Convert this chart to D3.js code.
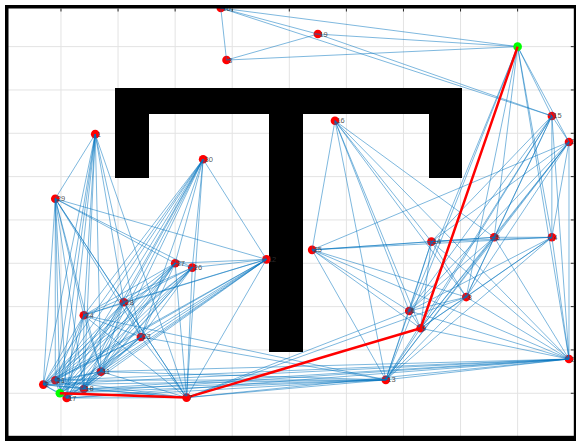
<!DOCTYPE html>
<meta charset="utf-8">
<script src="https://d3js.org/d3.v7.min.js"></script>
<style>
  body { margin: 0; background: #fff; }
  svg { display: block; }
</style>
<div id="chart"></div>
<script>
// Roadmap nodes in map units (0..10 on both axes)
const nodeX = [3.80, 3.90, 5.50, 9.00, 9.60, 9.90, 5.80, 1.60, 3.49, 0.90, 3.00, 3.30, 4.60, 5.40, 7.49, 8.59,
               9.60, 8.10, 7.10, 7.30, 9.90, 6.69, 3.20, 0.69, 0.90, 0.98, 1.10, 1.40, 1.70, 1.40, 2.10, 2.40];
const nodeY = [9.89, 8.69, 9.29, 9.00, 7.40, 6.80, 7.29, 6.98, 6.40, 5.49, 4.00, 3.90, 4.09, 4.31, 4.50, 4.60,
               4.60, 3.22, 2.90, 2.50, 1.79, 1.31, 0.90, 1.20, 1.30, 1.00, 0.89, 1.10, 1.50, 2.80, 3.10, 2.30];
const nodeLabel = ["10", "3", "19", "", "15", "20", "16", "1", "30", "29", "27", "26", "12", "25", "14", "5",
                   "4", "8", "6", "9", "22", "13", "7", "2", "21", "", "17", "18", "11", "24", "28", "23"];
const startNode = 25, goalNode = 3;

// roadmap edges (node index pairs)
const edges = [
  [0,1],[0,2],[0,3],[0,4],[1,2],[1,3],[2,3],[2,4],
  [3,4],[3,5],[3,15],[3,16],[3,17],[3,18],[3,19],[3,20],[3,21],
  [4,5],[4,14],[4,15],[4,16],[4,17],[4,18],[4,19],[4,20],[4,21],
  [5,13],[5,14],[5,15],[5,16],[5,17],[5,18],[5,19],[5,20],[5,21],
  [6,13],[6,14],[6,15],[6,17],[6,18],[6,19],[6,20],[6,21],
  [7,9],[7,22],[7,23],[7,24],[7,25],[7,26],[7,27],[7,28],[7,29],[7,30],[7,31],
  [8,10],[8,11],[8,12],[8,22],[8,23],[8,24],[8,25],[8,26],[8,27],[8,28],[8,29],[8,30],[8,31],
  [9,10],[9,11],[9,12],[9,22],[9,23],[9,24],[9,25],[9,26],[9,27],[9,28],[9,29],[9,30],[9,31],
  [10,11],[10,12],[10,22],[10,23],[10,24],[10,25],[10,26],[10,27],[10,28],[10,29],[10,30],[10,31],
  [11,12],[11,22],[11,23],[11,24],[11,25],[11,26],[11,27],[11,28],[11,29],[11,30],[11,31],
  [12,22],[12,23],[12,24],[12,25],[12,26],[12,27],[12,28],[12,29],[12,30],[12,31],
  [13,14],[13,15],[13,16],[13,17],[13,18],[13,19],[13,20],[13,21],
  [14,15],[14,16],[14,17],[14,18],[14,19],[14,20],[14,21],
  [15,16],[15,17],[15,18],[15,19],[15,20],[15,21],
  [16,17],[16,18],[16,19],[16,20],[16,21],
  [17,18],[17,19],[17,20],[17,21],[17,22],
  [18,19],[18,20],[18,21],[18,22],
  [19,20],[19,21],[19,22],
  [20,21],[20,22],[20,23],[20,24],[20,25],[20,26],[20,27],[20,28],
  [21,22],[21,23],[21,24],[21,25],[21,26],[21,27],[21,28],[21,29],[21,31],
  [22,23],[22,24],[22,25],[22,26],[22,27],[22,28],[22,29],[22,30],[22,31],
  [23,24],[23,25],[23,26],[23,27],[23,28],[23,29],[23,30],[23,31],
  [24,25],[24,26],[24,27],[24,28],[24,29],[24,30],[24,31],
  [25,26],[25,27],[25,28],[25,29],[25,30],[25,31],
  [26,27],[26,28],[26,29],[26,30],[26,31],
  [27,28],[27,29],[27,30],[27,31],
  [28,29],[28,30],[28,31],
  [29,30],[29,31],
  [30,31]
];

// shortest path found on the roadmap
const pathNodes = [25, 22, 19, 3];

// T-shaped obstacle as rectangles [x0, y0, x1, y1]
const obstacles = [
  [1.95, 7.44, 8.03, 8.04],
  [1.95, 5.96, 2.55, 7.44],
  [7.45, 5.96, 8.03, 7.44],
  [4.65, 1.95, 5.24, 7.44]
];

const gridTicks = [1, 2, 3, 4, 5, 6, 7, 8, 9];

const W = 576, H = 441;
const x = d3.scaleLinear().domain([0, 10]).range([3.9, 574.7]);
const y = d3.scaleLinear().domain([0, 10]).range([436.6, 3.3]);

const svg = d3.select("#chart").append("svg")
    .attr("width", W)
    .attr("height", H);

// grid
svg.append("g").selectAll("line").data(gridTicks).join("line")
    .attr("x1", d => x(d)).attr("x2", d => x(d))
    .attr("y1", y(10)).attr("y2", y(0))
    .attr("stroke", "#e3e3e3").attr("stroke-width", 1);
svg.append("g").selectAll("line").data(gridTicks).join("line")
    .attr("y1", d => y(d)).attr("y2", d => y(d))
    .attr("x1", x(0)).attr("x2", x(10))
    .attr("stroke", "#e3e3e3").attr("stroke-width", 1);

// obstacle
svg.append("g").selectAll("rect").data(obstacles).join("rect")
    .attr("x", d => x(d[0]))
    .attr("y", d => y(d[3]))
    .attr("width", d => x(d[2]) - x(d[0]))
    .attr("height", d => y(d[1]) - y(d[3]))
    .attr("fill", "#000")
    .attr("shape-rendering", "crispEdges");

// nodes
const nodes = nodeX.map((v, i) => ({x: v, y: nodeY[i], label: nodeLabel[i], i}));
svg.append("g").selectAll("circle").data(nodes.filter(d => d.i !== startNode && d.i !== goalNode)).join("circle")
    .attr("cx", d => x(d.x)).attr("cy", d => y(d.y))
    .attr("r", 4.3)
    .attr("fill", "#ff0000");

// edges
svg.append("g").selectAll("line").data(edges).join("line")
    .attr("x1", d => x(nodeX[d[0]])).attr("y1", d => y(nodeY[d[0]]))
    .attr("x2", d => x(nodeX[d[1]])).attr("y2", d => y(nodeY[d[1]]))
    .attr("stroke", "#0072BD")
    .attr("stroke-width", 0.6)
    .attr("stroke-opacity", 0.85);

// start / goal
svg.append("g").selectAll("circle").data([startNode, goalNode]).join("circle")
    .attr("cx", d => x(nodeX[d])).attr("cy", d => y(nodeY[d]))
    .attr("r", 4.3)
    .attr("fill", "#00ff00");

// path
svg.append("path")
    .datum(pathNodes)
    .attr("d", d3.line().x(d => x(nodeX[d])).y(d => y(nodeY[d])))
    .attr("fill", "none")
    .attr("stroke", "#ff0000")
    .attr("stroke-width", 2.5);

// labels
svg.append("g").selectAll("text").data(nodes.filter(d => d.label)).join("text")
    .attr("x", d => x(d.x) + 1.5)
    .attr("y", d => y(d.y) + 2.5)
    .attr("font-family", "Liberation Sans, Arial, sans-serif")
    .attr("font-size", 7.5)
    .attr("fill", "#333")
    .attr("fill-opacity", 0.85)
    .text(d => d.label);

// white margin outside the frame, then the frame itself
svg.append("path")
    .attr("d", `M0,0H${W}V${H}H0Z M5,5V441H576V5Z`)
    .attr("fill", "#fff")
    .attr("fill-rule", "evenodd");
const frame = svg.append("g").attr("fill", "#000");
frame.append("rect").attr("x", 5).attr("y", 5).attr("width", 571).attr("height", 3.5);
frame.append("rect").attr("x", 5).attr("y", 5).attr("width", 3.5).attr("height", 436);
frame.append("rect").attr("x", 5).attr("y", 435.8).attr("width", 571).attr("height", 5.2);
frame.append("rect").attr("x", 573.8).attr("y", 5).attr("width", 2.2).attr("height", 436);

// inward ticks on top and right
svg.append("g").selectAll("line").data(gridTicks).join("line")
    .attr("x1", d => x(d)).attr("x2", d => x(d))
    .attr("y1", 8.5).attr("y2", 11.5)
    .attr("stroke", "#262626");
svg.append("g").selectAll("line").data(gridTicks).join("line")
    .attr("y1", d => y(d)).attr("y2", d => y(d))
    .attr("x1", 570.8).attr("x2", 573.8)
    .attr("stroke", "#262626");
</script>
